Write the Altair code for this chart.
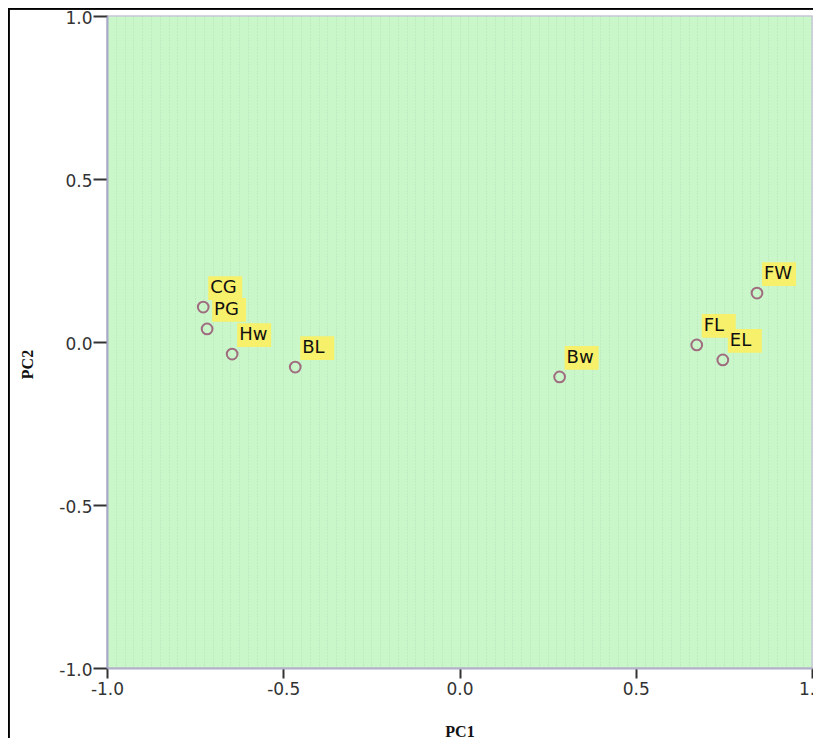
import altair as alt
import pandas as pd

labels = ["CG", "PG", "Hw", "BL", "Bw", "FL", "EL", "FW"]
pc1 = [-0.727, -0.716, -0.645, -0.466, 0.284, 0.673, 0.747, 0.844]
pc2 = [0.107, 0.040, -0.037, -0.077, -0.107, -0.009, -0.055, 0.150]

df = pd.DataFrame({"label": labels, "PC1": pc1, "PC2": pc2})

xscale = alt.Scale(domain=[-1, 1], nice=False, zero=False)
yscale = alt.Scale(domain=[-1, 1], nice=False, zero=False)

label_expr = "replace(format(datum.value, '.1f'), '\u2212', '-')"

x_axis = alt.Axis(
    values=[-1.0, -0.5, 0.0, 0.5, 1.0], labelExpr=label_expr, grid=False,
    labelFlush=False, labelOverlap=False,
    domainColor="#b0b0c8", domainWidth=2, tickColor="#333333", tickWidth=2, tickSize=10,
    labelFont="DejaVu Sans", labelFontSize=17, labelColor="#333333", labelPadding=3,
    title="PC1", titleFont="Liberation Serif", titleFontWeight="bold", titleFontSize=16,
    titleColor="#111111", titleY=63, titleBaseline="middle",
)
y_axis = alt.Axis(
    values=[-1.0, -0.5, 0.0, 0.5, 1.0], labelExpr=label_expr, grid=False,
    labelFlush=False, labelOverlap=False, labelOffset=2,
    domainColor="#a8a8c8", domainWidth=2, tickColor="#333333", tickWidth=2, tickSize=14,
    labelFont="DejaVu Sans", labelFontSize=17, labelColor="#333333", labelPadding=1,
    title="PC2", titleFont="Liberation Serif", titleFontWeight="bold", titleFontSize=16,
    titleColor="#111111", titleX=-80, titleY=348, titleBaseline="middle",
)

base = alt.Chart(df)

# dotted texture of the plot background (grid only, no ticks/labels)
texture = base.mark_point(opacity=0).encode(
    x=alt.X("PC1:Q", scale=xscale, axis=alt.Axis(
        values=[round(-1 + 0.025 * i, 3) for i in range(81)], grid=True,
        gridColor="#9fbfa8", gridOpacity=0.45, gridDash=[1, 2], gridWidth=1,
        ticks=False, labels=False, domain=False, title=None, orient="top")),
    y=alt.Y("PC2:Q", scale=yscale, axis=y_axis),
)

boxes = base.mark_point(
    shape="M-1,-0.7H1V0.7H-1Z", size=1156, filled=True, fill="#f7f06a",
    opacity=1, strokeWidth=0, xOffset=22, yOffset=-19,
).encode(x=alt.X("PC1:Q", scale=xscale, axis=x_axis),
         y=alt.Y("PC2:Q", scale=yscale, axis=y_axis))

points = base.mark_point(
    shape="circle", size=115, filled=False, stroke="#a06c80", strokeWidth=2, opacity=1,
).encode(x=alt.X("PC1:Q", scale=xscale, axis=None),
         y=alt.Y("PC2:Q", scale=yscale, axis=y_axis))

texts = base.mark_text(
    align="left", baseline="middle", dx=7, dy=-19,
    font="DejaVu Sans", fontSize=18, color="#111111",
).encode(x=alt.X("PC1:Q", scale=xscale, axis=None),
         y=alt.Y("PC2:Q", scale=yscale, axis=y_axis), text="label:N")

frame_left = alt.Chart(df).mark_rule(color="#000000", strokeWidth=1.5, clip=False).encode(
    x=alt.value(-98.5), y=alt.value(-8), y2=alt.value(740))
frame_top = alt.Chart(df).mark_rule(color="#000000", strokeWidth=1.5, clip=False).encode(
    x=alt.value(-99), x2=alt.value(710), y=alt.value(-7.5))

chart = alt.layer(texture, boxes, points, texts, frame_left, frame_top).resolve_axis(
    x="independent"
).properties(
    width=705, height=652,
    autosize=alt.AutoSizeParams(type="none"),
    padding={"left": 99, "top": 8, "right": 1, "bottom": 70},
    background="white",
).configure_view(
    fill="#c9f7c9", stroke="#c8c8d8", strokeWidth=1.5,
)

chart.save("out.html", embed_options={"renderer": "svg", "actions": False})
